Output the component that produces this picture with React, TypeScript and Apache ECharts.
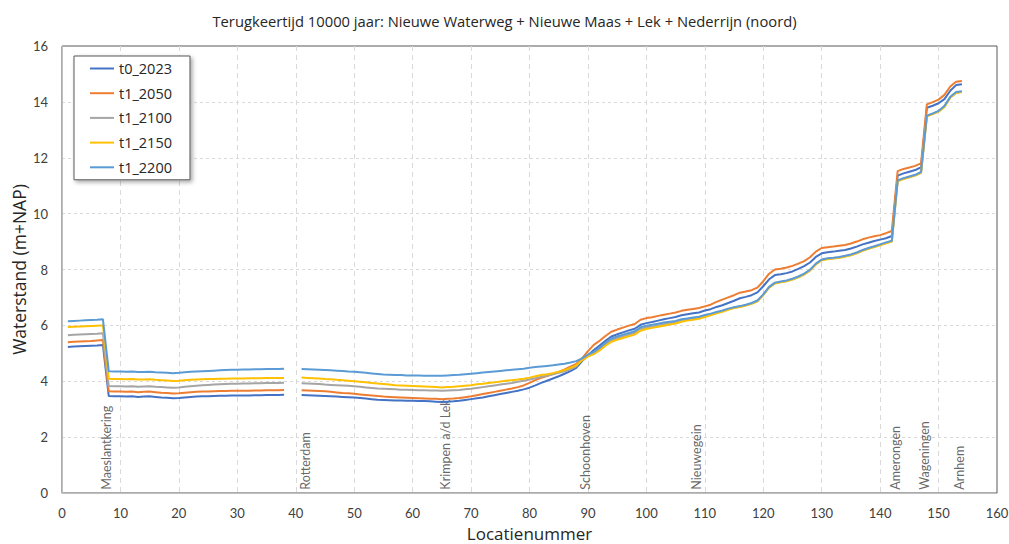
import React, { useEffect, useRef } from "react";
import * as echarts from "echarts";

const TITLE = "Terugkeertijd 10000 jaar: Nieuwe Waterweg + Nieuwe Maas + Lek + Nederrijn (noord)";
const X_NAME = "Locatienummer";
const Y_NAME = "Waterstand (m+NAP)";

const SERIES_NAMES = ["t0_2023", "t1_2050", "t1_2100", "t1_2150", "t1_2200"];
const SERIES_COLORS = ["#4472C4", "#ED7D31", "#A5A5A5", "#FFC000", "#5B9BD5"];

// Water levels (m+NAP) at location 1..154; locations 39 and 40 have no value.
const t0_2023 = [
  5.23, 5.24, 5.25, 5.26, 5.27, 5.28, 5.30,
  3.47, 3.46, 3.46, 3.45, 3.46, 3.44, 3.45, 3.46, 3.44, 3.42, 3.41, 3.39, 3.40, 3.42, 3.44, 3.45, 3.46, 3.46, 3.47, 3.48, 3.48, 3.49, 3.49, 3.49, 3.49, 3.50, 3.50, 3.51, 3.51, 3.51, 3.52,
  null, null,
  3.51, 3.50, 3.49, 3.48, 3.47, 3.46, 3.45, 3.44, 3.43, 3.42, 3.40, 3.38, 3.36, 3.34, 3.33, 3.32, 3.31, 3.31, 3.30, 3.30,
  3.29, 3.29, 3.28, 3.27, 3.26, 3.27, 3.28, 3.30, 3.33, 3.36, 3.39, 3.42, 3.46, 3.50, 3.54, 3.58, 3.62, 3.66, 3.71, 3.77,
  3.85, 3.94, 4.02, 4.10, 4.18, 4.27, 4.36, 4.48,
  4.72, 4.92, 5.12, 5.28, 5.45, 5.60, 5.68, 5.75, 5.82, 5.88, 6.02, 6.08,
  6.12, 6.17, 6.22, 6.26, 6.30, 6.36, 6.40, 6.43, 6.46, 6.53, 6.58, 6.66, 6.72, 6.80, 6.88, 6.97, 7.02, 7.08, 7.18, 7.40,
  7.65, 7.80, 7.83, 7.87, 7.93, 8.02, 8.12, 8.25, 8.45, 8.58, 8.62, 8.64, 8.67, 8.70, 8.75, 8.82, 8.90, 8.96, 9.02, 9.07,
  9.12, 9.20, 11.36, 11.44, 11.50, 11.56, 11.66, 13.79, 13.86, 13.95, 14.10, 14.40, 14.60, 14.63,
];

const t1_2050 = [
  5.40, 5.41, 5.42, 5.43, 5.44, 5.46, 5.48,
  3.64, 3.63, 3.63, 3.62, 3.63, 3.61, 3.62, 3.63, 3.61, 3.59, 3.58, 3.56, 3.57, 3.59, 3.61, 3.62, 3.63, 3.63, 3.64, 3.65, 3.65, 3.66, 3.66, 3.66, 3.66, 3.67, 3.67, 3.68, 3.68, 3.68, 3.69,
  null, null,
  3.68, 3.67, 3.66, 3.65, 3.64, 3.62, 3.60, 3.58, 3.57, 3.55, 3.53, 3.51, 3.49, 3.47, 3.45, 3.44, 3.43, 3.42, 3.41, 3.40,
  3.39, 3.38, 3.37, 3.37, 3.36, 3.37, 3.38, 3.40, 3.43, 3.46, 3.50, 3.54, 3.58, 3.62, 3.66, 3.70, 3.74, 3.79, 3.85, 3.94,
  4.04, 4.12, 4.19, 4.26, 4.33, 4.42, 4.52, 4.62,
  4.82, 5.08, 5.30, 5.45, 5.62, 5.77, 5.85, 5.92, 5.99, 6.05, 6.20, 6.26,
  6.29, 6.34, 6.38, 6.42, 6.46, 6.52, 6.56, 6.59, 6.62, 6.68, 6.74, 6.84, 6.92, 7.00, 7.08, 7.17, 7.21, 7.26, 7.35, 7.58,
  7.85, 8.00, 8.03, 8.07, 8.13, 8.21, 8.30, 8.44, 8.64, 8.77, 8.80, 8.82, 8.85, 8.88, 8.93, 9.00, 9.08, 9.14, 9.19, 9.23,
  9.30, 9.38, 11.52, 11.60, 11.65, 11.71, 11.80, 13.91, 13.99, 14.08, 14.25, 14.55, 14.72, 14.75,
];

const t1_2100 = [
  5.65, 5.66, 5.67, 5.68, 5.69, 5.70, 5.72,
  3.83, 3.82, 3.82, 3.81, 3.82, 3.80, 3.81, 3.82, 3.80, 3.79, 3.78, 3.77, 3.78, 3.80, 3.82, 3.84, 3.86, 3.87, 3.88, 3.89, 3.90, 3.91, 3.91, 3.92, 3.92, 3.93, 3.93, 3.94, 3.94, 3.94, 3.95,
  null, null,
  3.93, 3.92, 3.91, 3.90, 3.88, 3.87, 3.86, 3.85, 3.84, 3.82, 3.80, 3.78, 3.76, 3.74, 3.73, 3.72, 3.71, 3.70, 3.70, 3.69,
  3.68, 3.68, 3.67, 3.67, 3.66, 3.67, 3.68, 3.69, 3.71, 3.73, 3.76, 3.79, 3.82, 3.85, 3.88, 3.91, 3.94, 3.98, 4.02, 4.06,
  4.11, 4.16, 4.20, 4.25, 4.30, 4.36, 4.43, 4.53,
  4.78, 4.91, 5.01, 5.15, 5.32, 5.47, 5.54, 5.61, 5.67, 5.73, 5.87, 5.93,
  5.96, 6.00, 6.04, 6.08, 6.11, 6.17, 6.21, 6.24, 6.27, 6.33, 6.39, 6.45, 6.51, 6.58, 6.63, 6.67, 6.72, 6.78, 6.87, 7.09,
  7.36, 7.51, 7.55, 7.59, 7.65, 7.73, 7.83, 7.97, 8.19, 8.34, 8.38, 8.40, 8.43, 8.47, 8.52, 8.59, 8.68, 8.75, 8.81, 8.88,
  8.95, 9.01, 11.17, 11.25, 11.31, 11.37, 11.47, 13.49, 13.57, 13.66, 13.83, 14.16, 14.33, 14.36,
];

const t1_2150 = [
  5.94, 5.95, 5.96, 5.97, 5.98, 5.99, 6.00,
  4.09, 4.08, 4.08, 4.07, 4.08, 4.06, 4.06, 4.07, 4.05, 4.04, 4.03, 4.01, 4.02, 4.04, 4.05, 4.06, 4.07, 4.08, 4.08, 4.09, 4.09, 4.10, 4.10, 4.10, 4.11, 4.11, 4.11, 4.12, 4.12, 4.12, 4.12,
  null, null,
  4.13, 4.12, 4.11, 4.10, 4.08, 4.07, 4.05, 4.04, 4.02, 4.00, 3.98, 3.96, 3.94, 3.92, 3.90, 3.88, 3.86, 3.85, 3.84, 3.83,
  3.82, 3.81, 3.80, 3.79, 3.78, 3.79, 3.80, 3.82, 3.84, 3.86, 3.89, 3.91, 3.94, 3.96, 3.99, 4.02, 4.04, 4.06, 4.09, 4.13,
  4.18, 4.22, 4.25, 4.29, 4.34, 4.40, 4.48, 4.57,
  4.75, 4.88, 4.97, 5.10, 5.27, 5.41, 5.48, 5.55, 5.61, 5.67, 5.81, 5.87,
  5.91, 5.95, 5.99, 6.03, 6.07, 6.13, 6.17, 6.20, 6.24, 6.30, 6.36, 6.43, 6.49, 6.56, 6.62, 6.66, 6.71, 6.77, 6.86, 7.08,
  7.35, 7.50, 7.54, 7.58, 7.64, 7.72, 7.82, 7.96, 8.18, 8.33, 8.37, 8.39, 8.42, 8.46, 8.51, 8.58, 8.67, 8.74, 8.80, 8.87,
  8.94, 9.00, 11.16, 11.24, 11.30, 11.36, 11.46, 13.48, 13.56, 13.65, 13.82, 14.15, 14.32, 14.35,
];

const t1_2200 = [
  6.15, 6.16, 6.17, 6.18, 6.19, 6.20, 6.22,
  4.36, 4.35, 4.35, 4.34, 4.35, 4.33, 4.33, 4.34, 4.32, 4.31, 4.30, 4.29, 4.30, 4.32, 4.34, 4.35, 4.36, 4.37, 4.38, 4.39, 4.40, 4.41, 4.41, 4.42, 4.42, 4.43, 4.43, 4.44, 4.44, 4.44, 4.45,
  null, null,
  4.44, 4.43, 4.42, 4.41, 4.40, 4.39, 4.38, 4.37, 4.35, 4.34, 4.32, 4.30, 4.28, 4.26, 4.24, 4.23, 4.22, 4.22, 4.21, 4.21,
  4.21, 4.20, 4.20, 4.20, 4.20, 4.21, 4.22, 4.23, 4.25, 4.27, 4.29, 4.31, 4.33, 4.35, 4.37, 4.39, 4.41, 4.43, 4.45, 4.48,
  4.51, 4.53, 4.55, 4.57, 4.60, 4.63, 4.67, 4.72,
  4.82, 4.95, 5.05, 5.20, 5.38, 5.53, 5.60, 5.67, 5.73, 5.79, 5.93, 5.99,
  6.02, 6.06, 6.10, 6.13, 6.16, 6.22, 6.25, 6.28, 6.31, 6.37, 6.42, 6.48, 6.53, 6.60, 6.65, 6.69, 6.74, 6.80, 6.89, 7.11,
  7.38, 7.53, 7.57, 7.61, 7.67, 7.75, 7.85, 7.99, 8.21, 8.36, 8.40, 8.42, 8.45, 8.49, 8.54, 8.61, 8.70, 8.77, 8.83, 8.90,
  8.97, 9.03, 11.19, 11.27, 11.33, 11.39, 11.49, 13.51, 13.59, 13.68, 13.85, 14.18, 14.35, 14.38,
];

const SERIES_VALUES = [t0_2023, t1_2050, t1_2100, t1_2150, t1_2200];

// Named places along the river, with their location number.
const PLACE_NAMES = ["Maeslantkering", "Rotterdam", "Krimpen a/d Lek", "Schoonhoven", "Nieuwegein", "Amerongen", "Wageningen", "Arnhem"];
const PLACE_LOCATIONS = [8, 42, 66, 90, 109, 143, 148, 154];

const FONT = '"Open Sans", Lato, "Noto Sans", sans-serif';
const SMALL_FONT = 'Lato, "Open Sans", sans-serif';
const PLACE_LABEL_LEVEL = 0.12;

export default function App() {
  const ref = useRef<HTMLDivElement>(null);

  useEffect(() => {
    if (!ref.current) return;
    const chart = echarts.init(ref.current, undefined, { renderer: "svg" });

    const lineSeries = SERIES_NAMES.map((name, i) => ({
      name,
      type: "line",
      data: SERIES_VALUES[i].map((v, j) => [j + 1, v]),
      symbol: "none",
      showSymbol: false,
      connectNulls: false,
      lineStyle: { color: SERIES_COLORS[i], width: 2 },
      itemStyle: { color: SERIES_COLORS[i] },
      z: 3 + i,
    }));

    const placeSeries = {
      name: "places",
      type: "scatter",
      data: PLACE_LOCATIONS.map((loc, i) => ({ value: [loc, PLACE_LABEL_LEVEL], name: PLACE_NAMES[i] })),
      symbolSize: 0,
      silent: true,
      clip: false,
      z: 2,
      label: {
        show: true,
        formatter: (p: any) => p.name,
        position: [-2, 0],
        rotate: 90,
        align: "left",
        verticalAlign: "middle",
        color: "#404040",
        fontFamily: SMALL_FONT,
        fontSize: 12.5,
      },
    };

    chart.setOption({
      animation: false,
      backgroundColor: "#ffffff",
      title: {
        text: TITLE,
        left: "center",
        top: 8,
        textStyle: { fontFamily: FONT, fontSize: 14.75, fontWeight: "normal", color: "#262626" },
      },
      legend: {
        data: SERIES_NAMES,
        orient: "vertical",
        left: 74,
        top: 56,
        padding: [5, 18, 5, 15],
        itemWidth: 24,
        itemHeight: 14,
        itemGap: 9.7,
        backgroundColor: "#ffffff",
        borderColor: "#595959",
        borderWidth: 1,
        shadowBlur: 4,
        shadowColor: "rgba(0,0,0,0.35)",
        shadowOffsetX: 2,
        shadowOffsetY: 2,
        itemStyle: { opacity: 0 },
        lineStyle: { width: 2 },
        textStyle: { fontFamily: FONT, fontSize: 14.5, color: "#262626" },
      },
      grid: {
        left: 62,
        right: 12,
        top: 46,
        bottom: 51,
        outerBoundsMode: "none",
        containLabel: false,
        show: true,
        borderColor: "#595959",
        borderWidth: 1,
        backgroundColor: "transparent",
      },
      xAxis: {
        type: "value",
        min: 0,
        max: 160,
        interval: 10,
        name: X_NAME,
        nameLocation: "middle",
        nameGap: 32,
        nameMoveOverlap: false,
        nameTextStyle: { fontFamily: FONT, fontSize: 17, lineHeight: 17, color: "#262626" },
        axisLine: { show: true, onZero: false, lineStyle: { color: "#BFBFBF", width: 1 } },
        axisTick: { show: false },
        axisLabel: { fontFamily: SMALL_FONT, fontSize: 13, color: "#404040", margin: 13 },
        splitLine: { show: true, showMinLine: false, showMaxLine: false, lineStyle: { color: "#D9D9D9", type: [5, 4], width: 1 } },
      },
      yAxis: {
        type: "value",
        min: 0,
        max: 16,
        interval: 2,
        name: Y_NAME,
        nameLocation: "middle",
        nameGap: 34,
        nameMoveOverlap: false,
        nameTextStyle: { fontFamily: FONT, fontSize: 17.5, lineHeight: 18, color: "#262626" },
        axisLine: { show: true, lineStyle: { color: "#BFBFBF", width: 1 } },
        axisTick: { show: false },
        axisLabel: { fontFamily: SMALL_FONT, fontSize: 13, color: "#404040", margin: 14 },
        splitLine: { show: true, showMinLine: false, showMaxLine: false, lineStyle: { color: "#D9D9D9", type: [3, 3], width: 1 } },
      },
      series: [placeSeries, ...lineSeries],
    });

    return () => chart.dispose();
  }, []);

  return (
    <div
      ref={ref}
      style={{ position: "fixed", left: 0, top: 0, width: 1009, height: 544, background: "#ffffff" }}
    />
  );
}
